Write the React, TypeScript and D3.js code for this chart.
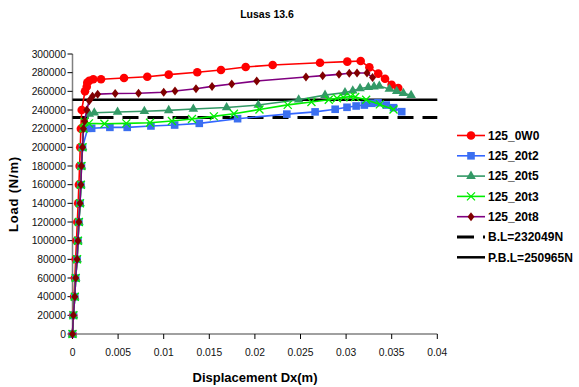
import React from "react";
import * as d3 from "d3";

const W = 579;
const H = 387;

const xTicks = [0, 0.005, 0.01, 0.015, 0.02, 0.025, 0.03, 0.035, 0.04];
const yTicks = [0, 20000, 40000, 60000, 80000, 100000, 120000, 140000, 160000, 180000, 200000, 220000, 240000, 260000, 280000, 300000];

const s0W0: [number, number][] = [
  [0, 0], [0.00008, 20000], [0.00017, 40000], [0.00026, 60000], [0.00035, 80000], [0.00044, 100000],
  [0.00053, 120000], [0.00062, 140000], [0.0007, 160000], [0.00078, 180000], [0.00085, 200000],
  [0.00092, 220000], [0.00101, 240000], [0.00137, 260000], [0.00156, 265000], [0.00162, 269300],
  [0.00184, 271400], [0.00228, 272900], [0.00313, 272900], [0.00565, 274300], [0.0082, 275700],
  [0.01055, 277900], [0.01368, 280400], [0.01628, 282900], [0.01899, 286100], [0.02195, 288200],
  [0.02714, 290700], [0.03013, 291800], [0.0316, 292500], [0.03255, 285700], [0.03353, 279000],
  [0.03427, 273500], [0.03499, 267000], [0.03572, 263500],
];

const s20t2: [number, number][] = [
  [0, 0], [0.0001, 20000], [0.00025, 40000], [0.00035, 60000], [0.0005, 80000], [0.0006, 100000],
  [0.0007, 120000], [0.00082, 140000], [0.00092, 160000], [0.00098, 180000], [0.0011, 200000],
  [0.00167, 220400], [0.0021, 220400], [0.0041, 221400], [0.006, 221400], [0.0086, 222900],
  [0.0112, 223900], [0.0139, 225700], [0.0181, 230700], [0.0235, 235600], [0.0266, 238000],
  [0.0288, 240800], [0.0301, 242900], [0.0311, 244300], [0.032, 245300], [0.0328, 247200],
  [0.0335, 247800], [0.0344, 245300], [0.0352, 242500], [0.0361, 238200],
];

const s20t5: [number, number][] = [
  [0, 0], [0.0001, 20000], [0.00025, 40000], [0.00035, 60000], [0.0005, 80000], [0.0006, 100000],
  [0.0007, 120000], [0.00082, 140000], [0.00092, 160000], [0.00098, 180000], [0.0011, 200000],
  [0.0012, 220000], [0.00184, 235700], [0.00239, 237100], [0.00494, 237900], [0.00788, 238600],
  [0.01055, 239600], [0.01325, 241000], [0.0169, 242700], [0.02037, 245300], [0.0248, 251000],
  [0.02769, 255900], [0.02988, 258800], [0.03073, 260700], [0.03153, 263000], [0.03244, 264300],
  [0.03306, 265000], [0.03364, 265700], [0.03474, 262500], [0.03555, 260000], [0.03628, 257900],
  [0.03713, 255700],
];

const s20t3: [number, number][] = [
  [0, 0], [0.0001, 20000], [0.00025, 40000], [0.00035, 60000], [0.0005, 80000], [0.0006, 100000],
  [0.0007, 120000], [0.00082, 140000], [0.00092, 160000], [0.00098, 180000], [0.0011, 200000],
  [0.0012, 220000], [0.0013, 227500], [0.0018, 225700], [0.0035, 225300], [0.0059, 225700],
  [0.0085, 226400], [0.0109, 228200], [0.0131, 230300], [0.0155, 233200], [0.0177, 236000],
  [0.0205, 240500], [0.0236, 245500], [0.0262, 248500], [0.0281, 251000], [0.029, 252500],
  [0.0297, 253500], [0.0305, 254300], [0.031, 254000], [0.0322, 251000], [0.0337, 246000],
  [0.0352, 240500],
];

const s20t8: [number, number][] = [
  [0, 0], [0.0001, 20000], [0.00025, 40000], [0.00035, 60000], [0.0005, 80000], [0.0006, 100000],
  [0.0007, 120000], [0.00082, 140000], [0.00092, 160000], [0.00098, 180000], [0.0011, 200000],
  [0.0012, 220000], [0.00133, 228000], [0.00156, 240000], [0.00184, 250000], [0.00219, 254600],
  [0.00276, 257000], [0.00468, 257700], [0.00724, 257900], [0.01, 259000], [0.01124, 260300],
  [0.01354, 262800], [0.0153, 265300], [0.01746, 267800], [0.0202, 271000], [0.0256, 275300],
  [0.02743, 276800], [0.02922, 278200], [0.03035, 279300], [0.0312, 279600], [0.03229, 279600],
  [0.0329, 274800],
];

const BL = 232049;
const PBL = 250965;

const seriesNames = ["125_0W0", "125_20t2", "125_20t5", "125_20t3", "125_20t8"];
const lineNames = ["B.L=232049N", "P.B.L=250965N"];

type Series = {
  name: string;
  data: [number, number][];
  line: string;
  fill: string;
  shape: string;
};

const series: Series[] = [
  { name: seriesNames[0], data: s0W0, line: "#ff0000", fill: "#ff0000", shape: "circle" },
  { name: seriesNames[1], data: s20t2, line: "#3366ff", fill: "#3b6ff0", shape: "square" },
  { name: seriesNames[2], data: s20t5, line: "#339966", fill: "#339966", shape: "triangle" },
  { name: seriesNames[3], data: s20t3, line: "#00ee00", fill: "#00ee00", shape: "x" },
  { name: seriesNames[4], data: s20t8, line: "#800080", fill: "#800000", shape: "diamond" },
];

const left = 72.5;
const right = 437.3;
const top = 54;
const bottom = 334;

const x = d3.scaleLinear().domain([0, 0.04]).range([left, right]);
const y = d3.scaleLinear().domain([0, 300000]).range([bottom, top]);

function Marker({ shape, cx, cy, fill }: { shape: string; cx: number; cy: number; fill: string }) {
  if (shape === "circle") return <circle cx={cx} cy={cy} r={4.3} fill={fill} />;
  if (shape === "square") return <rect x={cx - 3.8} y={cy - 3.8} width={7.6} height={7.6} fill={fill} />;
  if (shape === "triangle") {
    const p = d3.symbol().type(d3.symbolTriangle).size(40)();
    return <path d={p || ""} transform={`translate(${cx},${cy})`} fill={fill} />;
  }
  if (shape === "diamond") {
    return (
      <path
        d={`M${cx},${cy - 4.5}L${cx + 3.5},${cy}L${cx},${cy + 4.5}L${cx - 3.5},${cy}Z`}
        fill={fill}
      />
    );
  }
  return (
    <path
      d={`M${cx - 4},${cy - 4}L${cx + 4},${cy + 4}M${cx - 4},${cy + 4}L${cx + 4},${cy - 4}`}
      stroke={fill}
      strokeWidth={1.3}
      fill="none"
    />
  );
}

export default function App() {
  const line = d3
    .line<[number, number]>()
    .x((d) => x(d[0]))
    .y((d) => y(d[1]));
  const font = "Arial, 'Liberation Sans', sans-serif";
  const legX = 457;
  const legY0 = 135.5;
  const legStep = 20.3;

  return (
    <svg
      width={W}
      height={H}
      style={{ position: "absolute", left: 0, top: 0, background: "#fff" }}
      fontFamily={font}
    >
      <rect width={W} height={H} fill="#fff" />
      <text x={267} y={18} textAnchor="middle" fontSize={10.5} fontWeight="bold" fill="#000">
        Lusas 13.6
      </text>

      <line x1={left} x2={left} y1={top} y2={bottom} stroke="#808080" strokeWidth={1.5} />
      <line x1={left} x2={right} y1={bottom} y2={bottom} stroke="#808080" strokeWidth={1.5} />
      {yTicks.map((t) => (
        <g key={"y" + t}>
          <line x1={left - 5} x2={left} y1={y(t)} y2={y(t)} stroke="#000" strokeWidth={1} />
          <text x={66} y={y(t) + 3.5} textAnchor="end" fontSize={10.3} fill="#111">
            {t}
          </text>
        </g>
      ))}
      {xTicks.map((t) => (
        <g key={"x" + t}>
          <line x1={x(t)} x2={x(t)} y1={bottom} y2={bottom + 5} stroke="#000" strokeWidth={1} />
          <text x={x(t)} y={bottom + 22} textAnchor="middle" fontSize={10.3} fill="#111">
            {String(t)}
          </text>
        </g>
      ))}
      <text
        transform={`translate(18,194) rotate(-90)`}
        textAnchor="middle"
        fontSize={13}
        fontWeight="bold"
        letterSpacing={0.8}
        fill="#000"
      >
        Load (N/m)
      </text>
      <text x={255} y={382} textAnchor="middle" fontSize={13} fontWeight="bold" fill="#000">
        Displacement Dx(m)
      </text>

      <line x1={left} x2={right} y1={y(PBL)} y2={y(PBL)} stroke="#000" strokeWidth={2.5} />
      <line
        x1={left}
        x2={right}
        y1={y(BL)}
        y2={y(BL)}
        stroke="#000"
        strokeWidth={3}
        strokeDasharray="16,9"
      />

      {series.map((s) => (
        <g key={s.name}>
          <path d={line(s.data) || ""} fill="none" stroke={s.line} strokeWidth={1.6} />
          {s.data.map((d, i) => (
            <Marker key={i} shape={s.shape} cx={x(d[0])} cy={y(d[1])} fill={s.fill} />
          ))}
        </g>
      ))}

      {series.map((s, i) => {
        const ly = legY0 + i * legStep;
        return (
          <g key={"leg" + s.name}>
            <line x1={legX} x2={legX + 28} y1={ly} y2={ly} stroke={s.line} strokeWidth={1.6} />
            <Marker shape={s.shape} cx={legX + 14} cy={ly} fill={s.fill} />
            <text x={488} y={ly + 4.3} fontSize={12} fontWeight="bold" fill="#000">
              {s.name}
            </text>
          </g>
        );
      })}
      {lineNames.map((n, i) => {
        const ly = legY0 + (5 + i) * legStep;
        return (
          <g key={"leg" + n}>
            <line
              x1={legX}
              x2={legX + 28}
              y1={ly}
              y2={ly}
              stroke="#000"
              strokeWidth={i === 0 ? 3 : 2.5}
              strokeDasharray={i === 0 ? "17,9" : undefined}
            />
            <text x={488} y={ly + 4.3} fontSize={12} fontWeight="bold" fill="#000">
              {n}
            </text>
          </g>
        );
      })}
    </svg>
  );
}
